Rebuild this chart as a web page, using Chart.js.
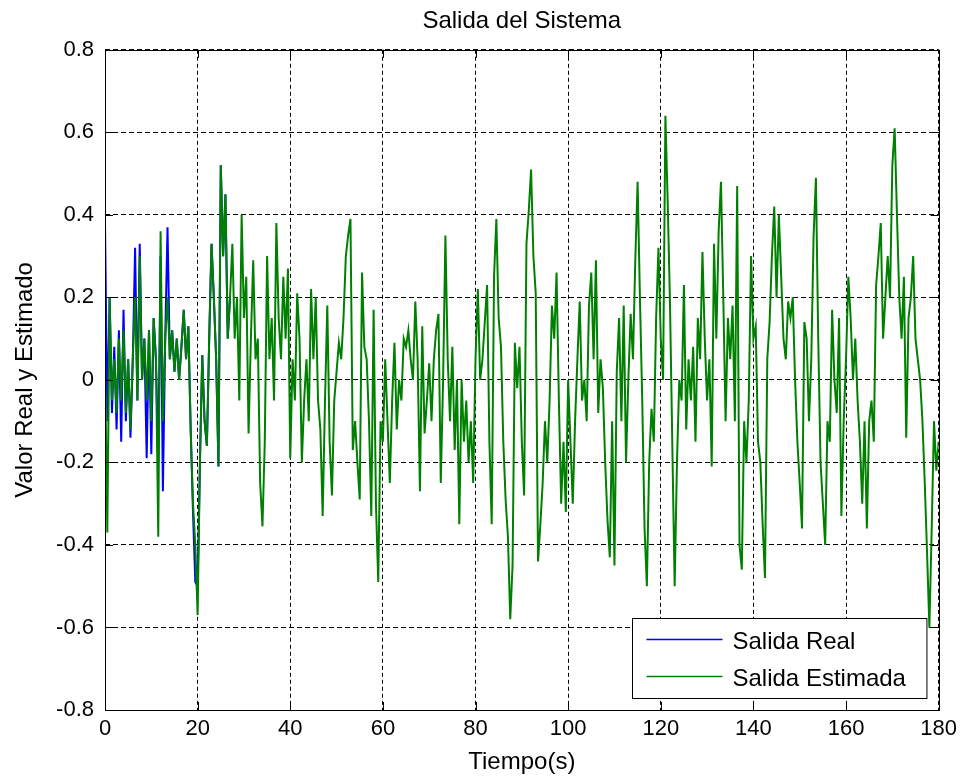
<!DOCTYPE html>
<html lang="es">
<head>
<meta charset="UTF-8">
<title>Salida del Sistema</title>
<script src="https://cdn.jsdelivr.net/npm/chart.js@4.4.2/dist/chart.umd.min.js"></script>
<style>
  body { margin: 0; background: #fff; }
  #wrap { width: 963px; height: 778px; }
</style>
</head>
<body>
<div id="wrap"><canvas id="salidaGraph" width="963" height="778"></canvas></div>
<script>
// both signals are sampled every 0.5 s
const sampleTime = 0.5;

// Salida Real - after ~27 s it sits under the estimate, so only the start is kept
const realOutput = [
  0.38, -0.1, 0.2, -0.08, 0.08, -0.12, 0.12, -0.15, 0.17, -0.1,
  0.05, -0.14, 0.05, 0.32, -0.05, 0.33, 0.0, 0.1, -0.19, 0.12,
  -0.18, 0.15, 0.05, -0.2, 0.3, -0.27, 0.1, 0.37, 0.05, 0.12,
  0.02, 0.1, 0.0, 0.08, 0.17, 0.05, 0.13, -0.12, -0.32, -0.49,
  -0.5, -0.2, 0.06, -0.1, -0.16, 0.1, 0.33, 0.2, 0.05, -0.21,
  0.52, 0.3, 0.45, 0.1, 0.2
];

// Salida Estimada, 0 .. 180 s
const estimatedOutput = [
  0.05, -0.37, 0.2, -0.05, 0.05, -0.08, 0.1, -0.05, 0.12, -0.08,
  0.05, -0.12, 0.05, 0.2, -0.05, 0.3, 0.0, 0.1, -0.05, 0.12,
  -0.1, 0.15, 0.05, -0.38, 0.36, -0.1, 0.1, 0.2, 0.05, 0.12,
  0.02, 0.1, 0.0, 0.08, 0.17, 0.05, 0.13, -0.12, -0.3, -0.4,
  -0.57, -0.2, 0.06, -0.1, -0.16, 0.1, 0.33, 0.2, 0.05, -0.21,
  0.52, 0.3, 0.45, 0.1, 0.2, 0.33, 0.1, 0.2, -0.05, 0.4,
  0.15, 0.25, -0.13, 0.1, 0.29, 0.05, 0.1, -0.25, -0.355, -0.15,
  0.3, 0.05, 0.15, -0.05, 0.38, 0.15, 0.05, 0.25, 0.1, 0.27,
  -0.19, 0.05, -0.05, 0.21, 0.1, -0.2, -0.05, 0.05, -0.1, 0.22,
  0.05, 0.2, -0.05, -0.12, -0.33, -0.05, 0.18, -0.15, -0.28, -0.05,
  0.02, 0.09, 0.05, 0.15, 0.3, 0.35, 0.39, -0.17, -0.1, -0.2,
  -0.29, 0.26, 0.08, 0.05, -0.1, -0.33, 0.17, -0.3, -0.49, -0.1,
  -0.15, 0.05, -0.1, -0.25, -0.05, 0.09, -0.12, 0.0, -0.05, 0.1,
  0.08, 0.12, 0.05, 0.0, 0.19, 0.05, -0.27, 0.13, -0.13, -0.05,
  0.04, -0.1, 0.05, 0.12, 0.16, -0.25, 0.0, 0.35, 0.05, -0.1,
  0.08, -0.17, 0.0, -0.35, 0.0, -0.15, -0.05, -0.2, -0.1, -0.25,
  0.05, 0.22, 0.0, 0.05, 0.14, 0.23, -0.15, -0.35, 0.25, 0.39,
  0.15, 0.08, -0.15, -0.29, -0.38, -0.58, -0.45, 0.09, -0.02, 0.08,
  -0.15, -0.28, 0.33, 0.41, 0.51, 0.3, 0.21, -0.44, -0.35, -0.25,
  -0.1, -0.2, -0.05, 0.18, 0.1, 0.26, -0.05, -0.3, -0.15, -0.32,
  0.0, -0.15, -0.3, -0.1, 0.05, 0.19, -0.05, 0.0, -0.1, 0.18,
  0.26, 0.05, 0.29, -0.08, 0.05, -0.02, -0.2, -0.34, -0.43, -0.1,
  -0.45, 0.02, 0.15, -0.1, 0.18, -0.2, 0.0, 0.16, 0.05, 0.29,
  0.48, 0.2, -0.05, -0.36, -0.5, -0.2, -0.07, -0.15, 0.15, 0.32,
  0.1, 0.0, 0.64, 0.43, 0.18, -0.16, -0.5, -0.2, 0.0, -0.05,
  0.23, -0.12, 0.05, -0.05, 0.08, -0.15, 0.15, 0.05, 0.31, 0.1,
  -0.05, 0.05, -0.21, 0.33, 0.1, 0.36, 0.48, 0.2, -0.1, 0.15,
  0.05, 0.18, -0.1, 0.47, -0.4, -0.46, -0.1, -0.2, -0.05, 0.3,
  0.1, 0.13, -0.15, -0.2, -0.35, -0.48, 0.05, 0.14, 0.3, 0.42,
  0.2, 0.4, 0.25, 0.1, 0.05, 0.19, 0.15, 0.2, 0.0, -0.15,
  -0.25, -0.36, 0.14, 0.1, -0.1, 0.05, 0.35, 0.49, 0.1, -0.2,
  -0.3, -0.4, -0.1, -0.15, 0.17, 0.0, -0.08, 0.15, -0.33, -0.1,
  0.05, 0.25, 0.15, 0.0, 0.1, -0.05, -0.15, -0.3, -0.1, -0.36,
  -0.1, -0.05, -0.15, 0.23, 0.3, 0.38, 0.1, 0.2, 0.3, 0.2,
  0.52, 0.61, 0.4, 0.2, 0.1, 0.25, -0.14, 0.15, 0.2, 0.3,
  0.1, 0.05, 0.0, -0.1, -0.25, -0.42, -0.6, -0.36, -0.1, -0.22,
  -0.15
];

const xTicks = [0, 20, 40, 60, 80, 100, 120, 140, 160, 180];
const xTickLabels = ['0', '20', '40', '60', '80', '100', '120', '140', '160', '180'];
const yTicks = [-0.8, -0.6, -0.4, -0.2, 0, 0.2, 0.4, 0.6, 0.8];
const yTickLabels = ['-0.8', '-0.6', '-0.4', '-0.2', '0', '0.2', '0.4', '0.6', '0.8'];

const fontFamily = '"Liberation Sans", Arial, Helvetica, sans-serif';

function toPoints(values) {
    return values.map((v, i) => ({x: i * sampleTime, y: v}));
}

// solid box round the plot plus the little inward ticks on all 4 sides
const matlabBox = {
    id: 'matlabBox',
    afterDatasetsDraw(chart) {
        const {ctx, chartArea: a, scales: {x, y}} = chart;
        const tick = 8;
        ctx.save();
        ctx.setLineDash([]);
        ctx.strokeStyle = '#000';
        ctx.lineWidth = 1;
        ctx.beginPath();
        xTicks.forEach(v => {
            const px = Math.round(x.getPixelForValue(v)) + 0.5;
            ctx.moveTo(px, a.bottom); ctx.lineTo(px, a.bottom - tick);
            ctx.moveTo(px, a.top); ctx.lineTo(px, a.top + tick);
        });
        yTicks.forEach(v => {
            const py = Math.round(y.getPixelForValue(v)) + 0.5;
            ctx.moveTo(a.left, py); ctx.lineTo(a.left + tick, py);
            ctx.moveTo(a.right, py); ctx.lineTo(a.right - tick, py);
        });
        ctx.stroke();
        ctx.strokeRect(Math.round(a.left) + 0.5, Math.round(a.top) + 0.5,
                       Math.round(a.width), Math.round(a.height));
        ctx.restore();
    }
};

// legend box in the lower right corner, like matlab's 'Location','SouthEast'
const cornerLegend = {
    id: 'cornerLegend',
    afterDraw(chart) {
        const {ctx, chartArea: a} = chart;
        const sets = chart.data.datasets;
        ctx.save();
        ctx.font = '24px ' + fontFamily;
        const textW = Math.max(...sets.map(d => ctx.measureText(d.label).width));
        const w = 14 + 76 + 10 + textW + 21;
        const h = 80;
        const left = Math.round(a.right - 12 - w) + 0.5;
        const top = Math.round(a.bottom - 12 - h) + 0.5;
        ctx.fillStyle = '#fff';
        ctx.fillRect(left, top, w, h);
        ctx.strokeStyle = '#000';
        ctx.lineWidth = 1;
        ctx.strokeRect(left, top, w, h);
        sets.forEach((d, i) => {
            const rowY = top + 21 + i * 37;
            ctx.strokeStyle = d.borderColor;
            ctx.lineWidth = 1.5;
            ctx.beginPath();
            ctx.moveTo(left + 14, rowY);
            ctx.lineTo(left + 90, rowY);
            ctx.stroke();
            ctx.fillStyle = '#000';
            ctx.textBaseline = 'alphabetic';
            ctx.fillText(d.label, left + 100, rowY + 9);
        });
        ctx.restore();
    }
};

Chart.defaults.font.family = fontFamily;
Chart.defaults.color = '#000';

const ctx = document.getElementById('salidaGraph').getContext('2d');
const salidaGraph = new Chart(ctx, {
    type: 'line',
    data: {
        datasets: [{
            label: 'Salida Real',
            data: toPoints(realOutput),
            borderColor: '#0000ff',
            borderWidth: 2,
            pointRadius: 0,
            tension: 0,
            fill: false,
            order: 1
        }, {
            label: 'Salida Estimada',
            data: toPoints(estimatedOutput),
            borderColor: '#008000',
            borderWidth: 2,
            pointRadius: 0,
            tension: 0,
            fill: false,
            order: 0
        }]
    },
    options: {
        responsive: false,
        animation: false,
        layout: {padding: {left: 0, right: 24, top: 0, bottom: 0}},
        scales: {
            x: {
                type: 'linear',
                min: 0,
                max: 180,
                afterBuildTicks: s => { s.ticks = xTicks.map(v => ({value: v})); },
                afterFit: s => { s.height = 68; },
                ticks: {
                    callback: (v, i) => xTickLabels[i],
                    font: {size: 22},
                    padding: 6,
                    maxRotation: 0,
                    autoSkip: false
                },
                grid: {color: '#000', lineWidth: 1, drawTicks: false},
                border: {display: false, dash: [4, 3]},
                title: {
                    display: true,
                    text: 'Tiempo(s)',
                    font: {size: 24},
                    padding: {top: 0, bottom: 1}
                }
            },
            y: {
                min: -0.8,
                max: 0.8,
                afterBuildTicks: s => { s.ticks = yTicks.map(v => ({value: v})); },
                afterFit: s => { s.width = 105; },
                ticks: {
                    callback: (v, i) => yTickLabels[i],
                    font: {size: 22},
                    padding: 11
                },
                grid: {color: '#000', lineWidth: 1, drawTicks: false},
                border: {display: false, dash: [5, 3]},
                title: {
                    display: true,
                    text: 'Valor Real y Estimado',
                    font: {size: 24},
                    padding: {top: 11, bottom: 0}
                }
            }
        },
        plugins: {
            legend: {display: false},
            tooltip: {enabled: false},
            title: {
                display: true,
                text: 'Salida del Sistema',
                fullSize: false,
                font: {size: 24, weight: 'normal'},
                color: '#000',
                padding: {top: 7, bottom: 14}
            }
        }
    },
    plugins: [matlabBox, cornerLegend]
});
</script>
</body>
</html>
